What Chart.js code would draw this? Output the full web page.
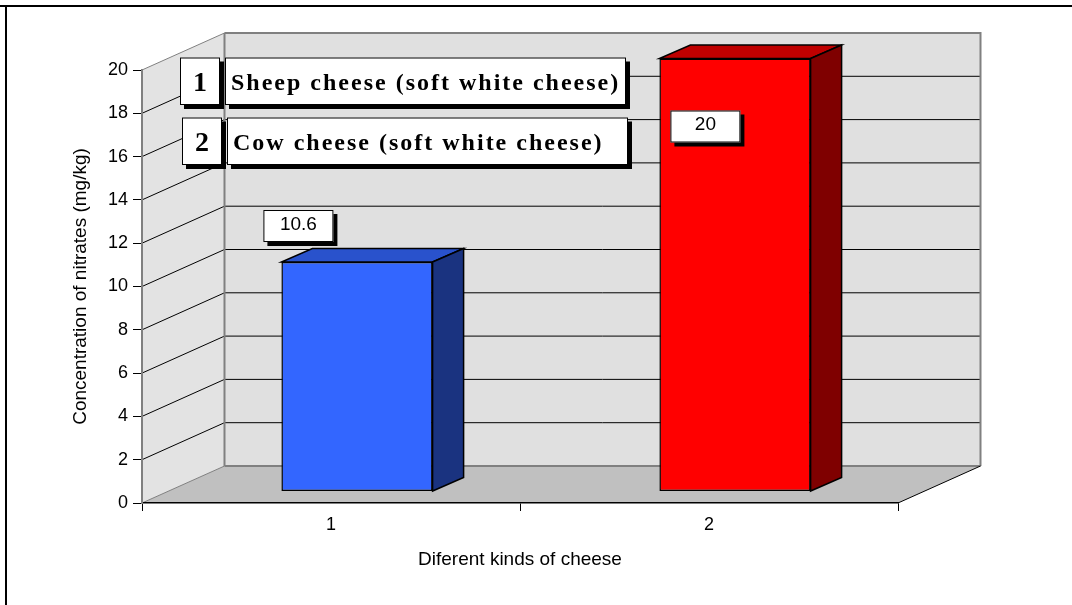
<!DOCTYPE html>
<html>
<head>
<meta charset="utf-8">
<title>Nitrates in cheese</title>
<script src="https://cdn.jsdelivr.net/npm/chart.js@4.4.1/dist/chart.umd.min.js"></script>
<style>
  html, body { margin: 0; padding: 0; background: #fff; }
  #chart { display: block; }
</style>
</head>
<body>
<canvas id="chart" width="1072" height="605"></canvas>
<script>
// values
const categories = ['1', '2'];
const cheeseNames = ['Sheep cheese (soft white cheese)', 'Cow cheese (soft white cheese)'];
const nitrates = [10.6, 20];
const yTicks = [0, 2, 4, 6, 8, 10, 12, 14, 16, 18, 20];

// bar face colours (front / top / side)
const frontColors = ['#3366ff', '#ff0000'];
const topColors = ['#2952cc', '#bf0000'];
const sideColors = ['#1a3380', '#7f0000'];

// fake 3D: depth of the walls, where the bars sit, how deep they are
const WALL = { dx: 82.5, dy: -37 };
const BAR_SHIFT = { dx: 26, dy: -11.5 };
const BAR_DEPTH = { dx: 31, dy: -13.5 };

const sans = "'Liberation Sans', Arial, sans-serif";
const serif = "'Liberation Serif', 'Times New Roman', serif";

const line = (ctx, x1, y1, x2, y2, color, width) => {
  ctx.beginPath();
  ctx.moveTo(x1, y1);
  ctx.lineTo(x2, y2);
  ctx.strokeStyle = color;
  ctx.lineWidth = width;
  ctx.stroke();
};

const poly = (ctx, pts, fill, stroke, lw) => {
  ctx.beginPath();
  pts.forEach(([x, y], i) => (i ? ctx.lineTo(x, y) : ctx.moveTo(x, y)));
  ctx.closePath();
  ctx.fillStyle = fill;
  ctx.fill();
  if (stroke) {
    ctx.strokeStyle = stroke;
    ctx.lineWidth = lw;
    ctx.lineJoin = 'miter';
    ctx.stroke();
  }
};

const shadowBox = (ctx, x, y, w, h) => {
  ctx.fillStyle = '#000';
  ctx.fillRect(x + 4, y + 4, w, h);
  ctx.fillStyle = '#fff';
  ctx.fillRect(x, y, w, h);
  ctx.strokeStyle = '#000';
  ctx.lineWidth = 1;
  ctx.strokeRect(x + 0.5, y + 0.5, w - 1, h - 1);
};

// text with extra spacing between letters, like the old word-art boxes
const spacedText = (ctx, text, x, y, spacing) => {
  for (const ch of text) {
    ctx.fillText(ch, x, y);
    x += ctx.measureText(ch).width + spacing;
  }
};

const box3d = {
  id: 'box3d',
  beforeDraw(chart) {
    const ctx = chart.ctx;
    const xs = chart.scales.x, ys = chart.scales.y;
    const L = xs.left, R = xs.right;
    const y0 = ys.getPixelForValue(yTicks[0]);
    const yTop = ys.getPixelForValue(yTicks[yTicks.length - 1]);
    ctx.save();

    // page frame
    line(ctx, 0, 6, chart.width, 6, '#000', 2);
    line(ctx, 6, 6, 6, chart.height, '#000', 2);

    // back wall, side wall, floor
    poly(ctx, [[L + WALL.dx, yTop + WALL.dy], [R + WALL.dx, yTop + WALL.dy],
      [R + WALL.dx, y0 + WALL.dy], [L + WALL.dx, y0 + WALL.dy]], '#e0e0e0');
    poly(ctx, [[L, yTop], [L + WALL.dx, yTop + WALL.dy],
      [L + WALL.dx, y0 + WALL.dy], [L, y0]], '#e3e3e3');
    poly(ctx, [[L, y0], [R, y0], [R + WALL.dx, y0 + WALL.dy], [L + WALL.dx, y0 + WALL.dy]], '#c0c0c0');

    // gridlines on the walls
    yTicks.forEach((v, i) => {
      const y = ys.getPixelForValue(v);
      const edge = i === 0 || i === yTicks.length - 1;
      const c = edge ? '#808080' : '#000';
      line(ctx, L + WALL.dx, y + WALL.dy, R + WALL.dx, y + WALL.dy, c, edge ? 2 : 1);
      line(ctx, L, y, L + WALL.dx, y + WALL.dy, c, 1);
    });
    line(ctx, L + WALL.dx, yTop + WALL.dy, L + WALL.dx, y0 + WALL.dy, '#808080', 2);
    line(ctx, R + WALL.dx, yTop + WALL.dy - 1, R + WALL.dx, y0 + WALL.dy, '#808080', 2);
    line(ctx, R, y0, R + WALL.dx, y0 + WALL.dy, '#000', 1);
    ctx.restore();
  },
  beforeDatasetsDraw(chart) {
    // bars stand a little behind the front plane
    chart.ctx.save();
    chart.ctx.translate(BAR_SHIFT.dx, BAR_SHIFT.dy);
  },
  afterDatasetsDraw(chart) {
    const ctx = chart.ctx;
    chart.getDatasetMeta(0).data.forEach((bar, i) => {
      const { x, y, base, width } = bar.getProps(['x', 'y', 'base', 'width'], true);
      const l = x - width / 2, r = x + width / 2;
      const dx = BAR_DEPTH.dx, dy = BAR_DEPTH.dy;
      poly(ctx, [[l, y], [r, y], [r + dx, y + dy], [l + dx, y + dy]], topColors[i], '#000', 1.5);
      poly(ctx, [[r, y], [r + dx, y + dy], [r + dx, base + dy], [r, base]], sideColors[i], '#000', 1.5);
    });
    ctx.restore();
  },
  afterDraw(chart) {
    const ctx = chart.ctx;
    ctx.save();

    // value labels
    chart.getDatasetMeta(0).data.forEach((bar, i) => {
      const { x, y, width } = bar.getProps(['x', 'y', 'width'], true);
      const fx = x - width / 2 + BAR_SHIFT.dx;
      const fy = y + BAR_SHIFT.dy;
      let bx = fx - 18, by = fy - 52;
      if (by < chart.chartArea.top) { bx = fx + 11; by = fy + 52; }
      shadowBox(ctx, bx, by, 70, 32);
      ctx.fillStyle = '#000';
      ctx.font = `19px ${sans}`;
      ctx.textAlign = 'center';
      ctx.textBaseline = 'middle';
      ctx.fillText(String(nitrates[i]), bx + 35, by + 14.5);
    });

    // key boxes: category number -> cheese name
    categories.forEach((cat, i) => {
      const top = 57.5 + i * 60;
      const nx = 180 + 2 * i, tx = 225 + 2 * i;
      shadowBox(ctx, nx, top, 40, 47.5);
      shadowBox(ctx, tx, top, 401, 47.5);
      ctx.fillStyle = '#000';
      ctx.textBaseline = 'middle';
      ctx.font = `bold 28px ${serif}`;
      ctx.textAlign = 'center';
      ctx.fillText(cat, nx + 20, top + 26);
      ctx.font = `bold 24px ${serif}`;
      ctx.textAlign = 'left';
      spacedText(ctx, cheeseNames[i], tx + 6, top + 26.5, 2);
    });
    ctx.restore();
  }
};

new Chart(document.getElementById('chart'), {
  type: 'bar',
  data: {
    labels: categories,
    datasets: [{
      data: nitrates,
      backgroundColor: frontColors,
      borderColor: '#000',
      borderWidth: 1.5,
      borderSkipped: false,
      barPercentage: 0.4,
      categoryPercentage: 1,
      clip: false
    }]
  },
  options: {
    responsive: false,
    animation: false,
    events: [],
    layout: { padding: { left: 68, top: 70, right: 174, bottom: 30 } },
    plugins: { legend: { display: false }, tooltip: { enabled: false } },
    scales: {
      x: {
        grid: { drawOnChartArea: false, drawTicks: true, tickLength: 8, color: '#000', offset: true },
        border: { display: true, color: '#000', width: 1.5 },
        ticks: { color: '#000', padding: 3, font: { family: sans, size: 18 } },
        title: {
          display: true,
          text: 'Diferent kinds of cheese',
          color: '#000',
          font: { family: sans, size: 19 },
          padding: { top: 4, bottom: 4 }
        },
        afterFit: (axis) => { axis.height = 72; }
      },
      y: {
        min: yTicks[0],
        max: yTicks[yTicks.length - 1],
        afterBuildTicks: (axis) => { axis.ticks = yTicks.map(v => ({ value: v })); },
        grid: { drawOnChartArea: false, drawTicks: true, tickLength: 9, color: '#000' },
        border: { display: true, color: '#808080', width: 2 },
        ticks: { color: '#000', padding: 5, font: { family: sans, size: 18 } },
        title: {
          display: true,
          text: 'Concentration of nitrates (mg/kg)',
          color: '#000',
          font: { family: sans, size: 19 },
          padding: { top: 1, bottom: 4 }
        },
        afterFit: (axis) => { axis.width = 74; }
      }
    }
  },
  plugins: [box3d]
});
</script>
</body>
</html>
